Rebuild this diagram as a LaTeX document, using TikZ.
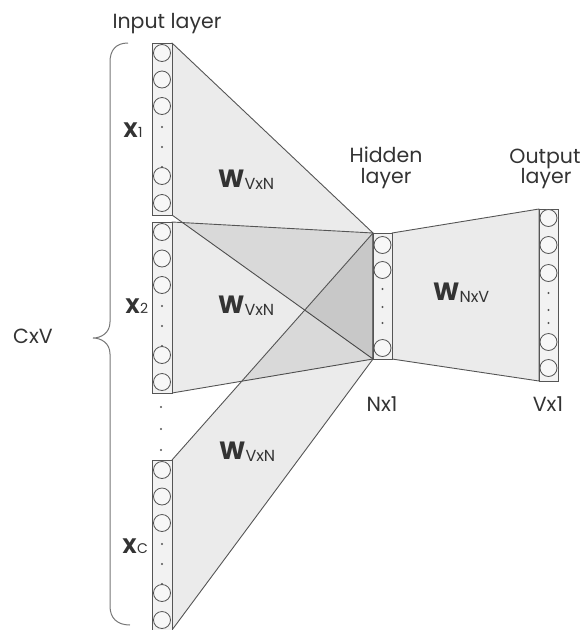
\documentclass[tikz,border=0pt]{standalone}
\usepackage{fontspec}
\setmainfont{Poppins}
\definecolor{edge}{HTML}{555555}
\definecolor{txt}{HTML}{333333}
\pgfdeclarelayer{bg}
\pgfsetlayers{bg,main}
\newcommand\wlab[1]{{\fontsize{25}{25}\selectfont\bfseries W}\raisebox{-2pt}{\fontsize{16}{16}\selectfont #1}}
\newcommand\xlab[1]{{\fontsize{21}{21}\selectfont\bfseries X}{\fontsize{14}{14}\selectfont #1}}
\tikzset{
 colbox/.style={rectangle, draw=edge, fill=white!95!black, line width=0.9pt, minimum width=20pt, inner sep=0pt, outer sep=0pt},
 neuron/.style={circle, draw=edge, fill=white!97!black, line width=0.8pt, minimum size=17pt, inner sep=0pt},
 dotn/.style={circle, fill=edge, minimum size=2.2pt, inner sep=0pt},
 wpanel/.style={fill=black, fill opacity=0.08, draw=edge, line width=0.9pt, line join=round},
 lbl/.style={text=txt, font=\fontsize{20.5}{23}\selectfont, inner sep=0pt, anchor=base},
 wlbl/.style={text=txt, inner sep=0pt, anchor=base west},
 bracestyle/.style={draw=edge!80, line width=1pt},
}
\begin{document}
\begin{tikzpicture}[x=1pt,y=-1pt]
\useasboundingbox (0,0) rectangle (584,630);
% columns
\node[colbox, minimum height=172pt] (c1) at (162,129) {};
\node[colbox, minimum height=171pt] (c2) at (162,307.5) {};
\node[colbox, minimum height=170pt] (cc) at (162,545) {};
\node[colbox, minimum width=19pt, minimum height=126pt] (h) at (382.5,296) {};
\node[colbox, minimum width=19pt, minimum height=172pt] (o) at (548.5,295) {};
% weight panels
\begin{pgfonlayer}{bg}
\path[wpanel] (c1.north east) -- (h.north west) -- (h.south west) -- (c1.south east) -- cycle;
\path[wpanel] (c2.north east) -- (h.north west) -- (h.south west) -- (c2.south east) -- cycle;
\path[wpanel] (cc.north east) -- (h.north west) -- (h.south west) -- (cc.south east) -- cycle;
\path[wpanel] (h.north east) -- (o.north west) -- (o.south west) -- (h.south east) -- cycle;
\end{pgfonlayer}
% neurons
\foreach \d [count=\i] in {10,36.5,63,133,160} {
  \node[neuron] (c1n\i) at (162,{43+\d}) {};
  \node[neuron] (c2n\i) at (162,{222+\d}) {};
  \node[neuron] (ccn\i) at (162,{460+\d}) {};
}
\foreach \d [count=\i] in {84,104,124} {
  \node[dotn] (c1d\i) at (162,{43+\d}) {};
  \node[dotn] (c2d\i) at (162,{222+\d}) {};
  \node[dotn] (ccd\i) at (162,{460+\d}) {};
}
\foreach \d [count=\i] in {12,37,115} \node[neuron] (hn\i) at (382.5,{233+\d}) {};
\foreach \d [count=\i] in {56,74,90} \node[dotn] (hd\i) at (382.5,{233+\d}) {};
\foreach \d [count=\i] in {9,36,64,133,159} \node[neuron] (on\i) at (548.5,{209+\d}) {};
\foreach \d [count=\i] in {84,101,114} \node[dotn] (od\i) at (548.5,{209+\d}) {};
\foreach \y [count=\i] in {407,429,450} \node[dotn] (gd\i) at (161,\y) {};
% brace
\draw[bracestyle] (128,43) .. controls (116,43) and (110,50) .. (110,62) -- (110,322)
  .. controls (110,333) and (101,338) .. (93,338)
  .. controls (101,338) and (110,343) .. (110,354) -- (110,606)
  .. controls (110,618) and (117,625) .. (130,625);
% labels
\node[lbl] (tin) at (167,28) {Input layer};
\node[lbl] (thid1) at (386,162) {Hidden};
\node[lbl] (thid2) at (386,183) {layer};
\node[lbl] (tout1) at (545,163) {Output};
\node[lbl] (tout2) at (546,183) {layer};
\node[lbl] (tnx1) at (382,411) {Nx1};
\node[lbl] (tvx1) at (548,411) {Vx1};
\node[lbl] (tcxv) at (33,343) {CxV};
\node[wlbl] (w1) at (218,187) {\wlab{VxN}};
\node[wlbl] (w2) at (218,313) {\wlab{VxN}};
\node[wlbl] (w3) at (219,459) {\wlab{VxN}};
\node[wlbl] (w4) at (433,300) {\wlab{NxV}};
\node[wlbl] (x1) at (123,137) {\xlab{1}};
\node[wlbl] (x2) at (125,313) {\xlab{2}};
\node[wlbl] (xc) at (122,553) {\xlab{C}};
\end{tikzpicture}
\end{document}
